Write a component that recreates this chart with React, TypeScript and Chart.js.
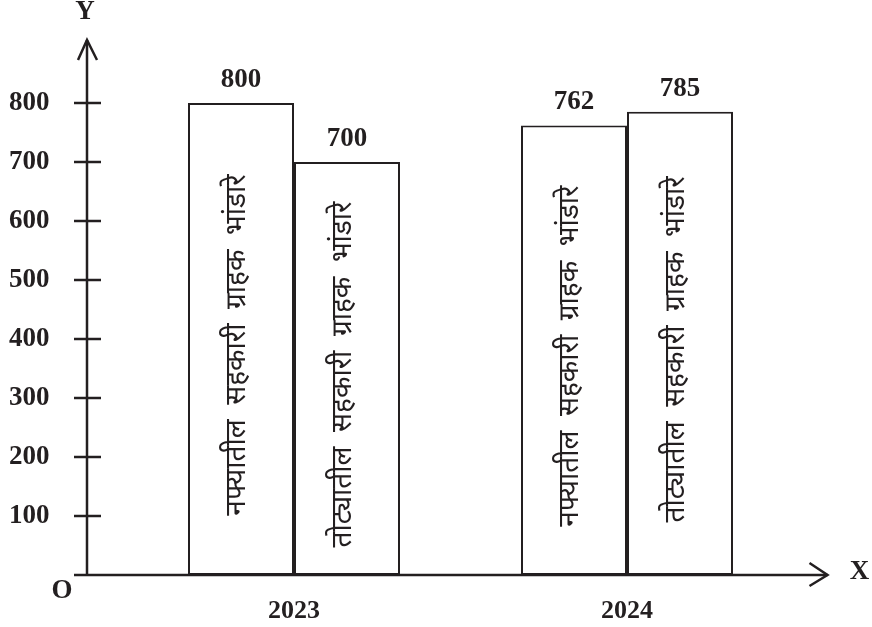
import { useEffect, useRef } from "react";
import { Chart, registerables } from "chart.js";

Chart.register(...registerables);

const categories = ["2023", "2024"];
const profitValues = [800, 762];
const lossValues = [700, 785];
const profitText = "नफ्यातील  सहकारी  ग्राहक  भांडारे";
const lossText = "तोट्यातील  सहकारी  ग्राहक  भांडारे";
const yTickValues = [100, 200, 300, 400, 500, 600, 700, 800];
const yMax = 900;
const barTexts = [profitText, lossText];

const INK = "#231f20";
const SERIF = "'Liberation Serif', 'Times New Roman', serif";
const DEVA = "'Noto Sans Devanagari', 'Lohit Devanagari', 'Noto Sans', sans-serif";

const axesPlugin = {
  id: "handAxes",
  afterDatasetsDraw(chart: any) {
    const { ctx, chartArea, scales } = chart;
    const ys = scales.y;
    const axX = chartArea.left - 40.5;
    const base = ys.getPixelForValue(0);
    ctx.save();
    ctx.strokeStyle = INK;
    ctx.fillStyle = INK;
    ctx.lineWidth = 2.5;
    ctx.lineCap = "butt";
    // Y axis
    ctx.beginPath();
    ctx.moveTo(axX, base);
    ctx.lineTo(axX, chartArea.top - 4);
    ctx.stroke();
    ctx.beginPath();
    ctx.moveTo(axX - 9, chartArea.top + 16);
    ctx.lineTo(axX, chartArea.top - 4);
    ctx.lineTo(axX + 10, chartArea.top + 16);
    ctx.stroke();
    // X axis
    const xEnd = chartArea.right + 34;
    ctx.beginPath();
    ctx.moveTo(axX - 13, base);
    ctx.lineTo(xEnd, base);
    ctx.stroke();
    ctx.beginPath();
    ctx.moveTo(xEnd - 18, base - 12);
    ctx.lineTo(xEnd, base);
    ctx.lineTo(xEnd - 18, base + 11);
    ctx.stroke();
    // tick marks
    yTickValues.forEach((v) => {
      const py = ys.getPixelForValue(v);
      ctx.beginPath();
      ctx.moveTo(axX - 13, py);
      ctx.lineTo(axX + 14, py);
      ctx.stroke();
    });
    // axis letters
    ctx.font = `bold 27px ${SERIF}`;
    ctx.textAlign = "center";
    ctx.textBaseline = "middle";
    ctx.fillText("O", axX - 25, base + 16);
    ctx.fillText("X", xEnd + 32, base - 3);
    ctx.fillText("Y", axX - 2, chartArea.top - 32);

    // bar value labels and rotated texts
    chart.data.datasets.forEach((ds: any, di: number) => {
      const meta = chart.getDatasetMeta(di);
      meta.data.forEach((el: any, i: number) => {
        ctx.font = `bold 27px ${SERIF}`;
        ctx.textAlign = "center";
        ctx.textBaseline = "alphabetic";
        ctx.fillText(String(ds.data[i]), el.x, el.y - 16);
        ctx.save();
        ctx.translate(el.x - 1, (el.y + el.base) / 2 + 6);
        ctx.rotate(-Math.PI / 2);
        ctx.font = `28px ${DEVA}`;
        ctx.textAlign = "center";
        ctx.textBaseline = "middle";
        ctx.fillText(barTexts[di], 0, 0);
        ctx.restore();
      });
    });
    ctx.restore();
  },
};

export default function App() {
  const ref = useRef<HTMLCanvasElement | null>(null);
  useEffect(() => {
    if (!ref.current) return;
    const chart = new Chart(ref.current, {
      type: "bar",
      data: {
        labels: categories,
        datasets: [
          {
            label: profitText,
            data: profitValues,
            backgroundColor: "#ffffff",
            borderColor: INK,
            borderWidth: 2,
            borderSkipped: false,
            barPercentage: 1,
            categoryPercentage: 0.6366,
          },
          {
            label: lossText,
            data: lossValues,
            backgroundColor: "#ffffff",
            borderColor: INK,
            borderWidth: 2,
            borderSkipped: false,
            barPercentage: 1,
            categoryPercentage: 0.6366,
          },
        ],
      },
      options: {
        animation: false,
        responsive: true,
        maintainAspectRatio: false,
        layout: { padding: { left: 9, right: 78.5, top: 44, bottom: 0 } },
        plugins: {
          legend: { display: false },
          tooltip: { enabled: false },
          title: { display: false },
        },
        scales: {
          x: {
            grid: { display: false, drawTicks: false },
            border: { display: false },
            ticks: {
              color: INK,
              font: { family: SERIF, size: 26, weight: "bold" },
              padding: 21,
            },
            afterFit: (s: any) => {
              s.height = 52;
            },
          },
          y: {
            min: 0,
            max: yMax,
            grid: { display: false, drawTicks: false },
            border: { display: false },
            ticks: {
              stepSize: 100,
              color: INK,
              font: { family: SERIF, size: 27, weight: "bold" },
              padding: 0,
              crossAlign: "far",
              callback: (v: any) => (yTickValues.includes(Number(v)) ? String(v) : ""),
            },
            afterFit: (s: any) => {
              s.width = 118.5;
            },
          },
        },
      },
      plugins: [axesPlugin],
    });
    return () => chart.destroy();
  }, []);
  return (
    <div
      style={{
        position: "fixed",
        left: 0,
        top: 0,
        width: "872px",
        height: "627px",
        background: "#ffffff",
      }}
    >
      <canvas ref={ref} />
    </div>
  );
}
